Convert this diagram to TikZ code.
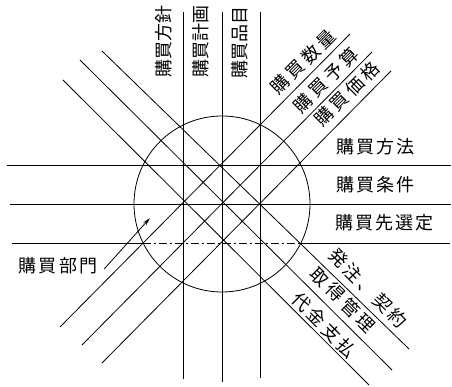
\documentclass[tikz,border=0pt]{standalone}
\usepackage{fontspec}
\newfontfamily\jp{Noto Sans CJK JP}
\usetikzlibrary{arrows.meta}
\newcommand\spacedtxt[2]{\def\spk{#1}\spacedi#2\relax}
\def\spacedi#1#2{#1\ifx\relax#2\else\kern\spk\expandafter\spacedi\expandafter#2\fi}
\begin{document}
\begin{tikzpicture}[x=1pt,y=-1pt,line width=0.8pt,
  lbl/.style={font=\jp\fontsize{18}{18}\selectfont,inner sep=0pt},
  dashdot/.style={dash pattern=on 8pt off 3pt on 2pt off 3pt}]
\useasboundingbox (0,0) rectangle (452,387);
% circle
\node[draw,circle,minimum size=176pt,inner sep=0pt,line width=0.8pt] (ring) at (222,204) {};
% horizontal lines
\coordinate (h1a) at (7,165);  \coordinate (h1b) at (451,165);
\coordinate (h2a) at (10,204); \coordinate (h2b) at (451,204);
\coordinate (h3a) at (12,243); \coordinate (h3b) at (450,243);
\coordinate (h3c) at (143.1,243); \coordinate (h3d) at (300.9,243);
\draw (h1a) -- (h1b);
\draw (h2a) -- (h2b);
\draw (h3a) -- (h3c);
\draw[dashdot] (h3c) -- (h3d);
\draw (h3d) -- (h3b);
% vertical lines
\coordinate (v1a) at (183,12); \coordinate (v1b) at (183,379);
\coordinate (v2a) at (222,12); \coordinate (v2b) at (222,382);
\coordinate (v3a) at (260,12); \coordinate (v3b) at (260,378);
\draw (v1a) -- (v1b);
\draw (v2a) -- (v2b);
\draw (v3a) -- (v3b);
% NE diagonals
\coordinate (m1a) at (60,327);  \coordinate (m1b) at (350,34);
\coordinate (m2a) at (82,345);  \coordinate (m2b) at (372,52);
\coordinate (m3a) at (102,363); \coordinate (m3b) at (391,71);
\draw (m1a) -- (m1b);
\draw (m2a) -- (m2b);
\draw (m3a) -- (m3b);
% SE diagonals
\coordinate (l1a) at (102,51); \coordinate (l1b) at (409,349);
\coordinate (l2a) at (80,60);  \coordinate (l2b) at (392,370);
\coordinate (l3a) at (63,80);  \coordinate (l3b) at (369,385);
\draw (l1a) -- (l1b);
\draw (l2a) -- (l2b);
\draw (l3a) -- (l3b);
% vertical labels
\node[lbl,rotate=90] (t1) at (164,42) {購買方針};
\node[lbl,rotate=90] (t2) at (201,42) {購買計画};
\node[lbl,rotate=90] (t3) at (240,43) {購買品目};
% NE labels
\node[lbl,rotate=45] (t4) at (303,62) {\spacedtxt{3.5pt}{購買数量}};
\node[lbl,rotate=45] (t5) at (326,80) {\spacedtxt{3.5pt}{購買予算}};
\node[lbl,rotate=45] (t6) at (347,94) {\spacedtxt{3.5pt}{購買価格}};
% horizontal labels
\node[lbl,anchor=west] (t7) at (336,147) {\spacedtxt{2pt}{購買方法}};
\node[lbl,anchor=west] (t8) at (336,185) {\spacedtxt{2pt}{購買条件}};
\node[lbl,anchor=west] (t9) at (335,223) {\spacedtxt{2pt}{購買先選定}};
% SE labels
\node[lbl,rotate=-45] (t10) at (368,288) {\spacedtxt{3pt}{発注、契約}};
\node[lbl,rotate=-45] (t11) at (343,300) {\spacedtxt{3.5pt}{取得管理}};
\node[lbl,rotate=-45] (t12) at (324,325) {\spacedtxt{3.5pt}{代金支払}};
% department and arrow
\node[lbl] (bumon) at (58,266) {\spacedtxt{2.5pt}{購買部門}};
\coordinate (arrtip) at (150,218);
\draw[-{Stealth[length=8pt,width=4pt]}] ([xshift=6pt,yshift=-3pt]bumon.east) -- (arrtip);
\end{tikzpicture}
\end{document}
